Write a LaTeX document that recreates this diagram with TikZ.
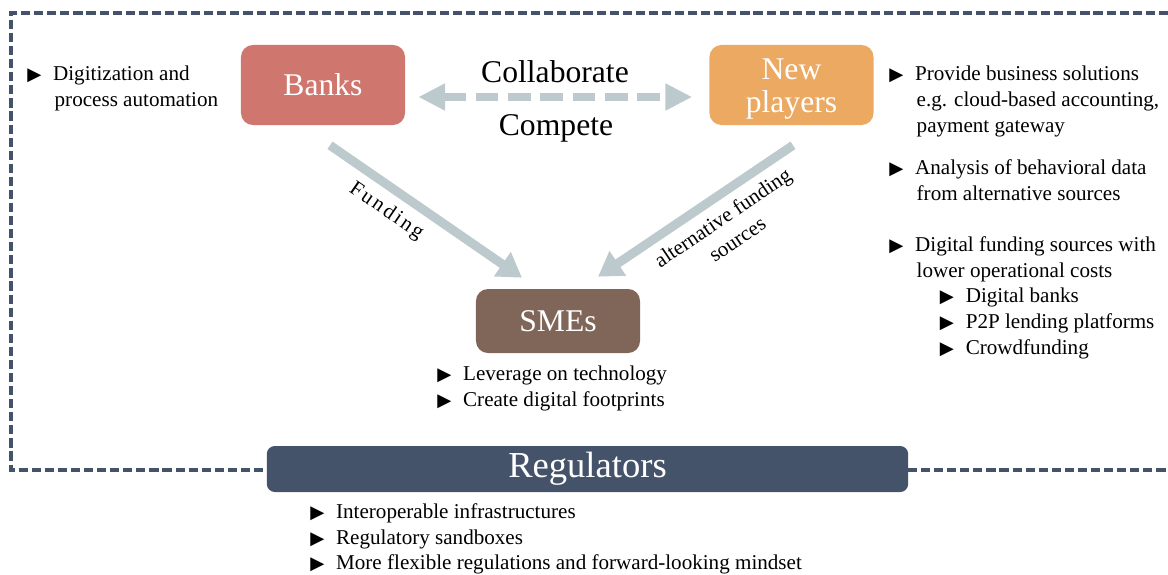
\documentclass[tikz,border=0pt]{standalone}
\usepackage{fontspec}
\setmainfont{Liberation Serif}
\newfontfamily\trifont{DejaVu Sans}
\usetikzlibrary{positioning, arrows.meta}
\definecolor{BankRed}{HTML}{CF766F}
\definecolor{PlayerOrange}{HTML}{EBA962}
\definecolor{SmeBrown}{HTML}{806658}
\definecolor{RegBlue}{HTML}{45536A}
\definecolor{FlowGray}{HTML}{BDCACD}
\newcommand{\itm}{\makebox[18.4pt][l]{\trifont\fontsize{13}{13}\selectfont ▶}}
\newcommand{\hang}{\hspace*{19.5pt}}

\begin{document}
\begin{tikzpicture}[x=0.025cm, y=-0.025cm,
  main box/.style={rounded corners=0.3cm, inner sep=0pt, text=white, minimum width=4.1cm,
    font=\fontsize{22.5}{23.5}\selectfont, align=center},
  bullets/.style={anchor=north west, inner sep=0pt, align=left, font=\fontsize{15}{18.4}\selectfont},
  flow/.style={line width=6.4pt, color=FlowGray, -{Triangle[length=17pt, width=20pt]}},
  flow label/.style={text=black, sloped, below=3pt, inner sep=3pt, font=\fontsize{15}{18.4}\selectfont},
  word/.style={font=\fontsize{22.5}{23.5}\selectfont}]

\useasboundingbox (0,0) rectangle (1168,574);

\draw[RegBlue, line width=2.5pt, dash pattern=on 6.5pt off 2.8pt] (1168,13) -- (11,13) -- (11,470) -- (1168,470);

\node[main box, fill=BankRed, minimum height=2cm] (banks) at (323,85) {Banks};
\node[main box, fill=PlayerOrange, minimum height=2cm] (newp) at (791.5,85) {\rule{0pt}{20.5pt}New\\players};
\node[main box, fill=SmeBrown, minimum height=1.6cm] (smes) at (558,321) {SMEs};
\node[main box, fill=RegBlue, rounded corners=0.2cm, minimum width=16.03cm, minimum height=1.15cm,
  font=\fontsize{26}{27}\selectfont] (reg) at (587.5,469) {Regulators};

\node[word] (collab) at (555,72) {Collaborate};
\node[word] (compete) at (556,128) {Compete};

\draw[flow, line width=6pt, dash pattern=on 16pt off 7pt,
  {Triangle[length=19pt, width=18pt]}-{Triangle[length=19pt, width=18pt]}]
  ([shift={(13,12)}]banks.east) -- ([shift={(-17,12)}]newp.west);
\draw[flow] ([shift={(7,20)}]banks.south) -- ([shift={(-36,-11)}]smes.north)
  node[flow label, pos=0.36] (fund) {\addfontfeatures{LetterSpace=12}Funding};
\draw[flow] ([shift={(1.5,20)}]newp.south) -- ([shift={(40,-12)}]smes.north)
  node[flow label, pos=0.42, align=center] (altfund) {alternative funding\\sources};

\node[bullets] (banklist) at (27,65.5) {\itm Digitization and\\ \hang process automation};
\node[bullets] (nplist1) at (889,65.5) {\itm Provide business solutions\\ \hang e.g. cloud-based accounting,\\ \hang payment gateway};
\node[bullets] (nplist2) at (889,159) {\itm Analysis of behavioral data\\ \hang from alternative sources};
\node[bullets] (nplist3) at (889,236) {\itm Digital funding sources with\\ \hang lower operational costs\\
  \hspace*{36pt}\itm Digital banks\\ \hspace*{36pt}\itm P2P lending platforms\\ \hspace*{36pt}\itm Crowdfunding};
\node[bullets] (smelist) at (437,366) {\itm Leverage on technology\\ \itm Create digital footprints};
\node[bullets] (reglist) at (310,503) {\itm Interoperable infrastructures\\ \itm Regulatory sandboxes\\
  \itm More flexible regulations and forward-looking mindset};

\end{tikzpicture}
\end{document}
